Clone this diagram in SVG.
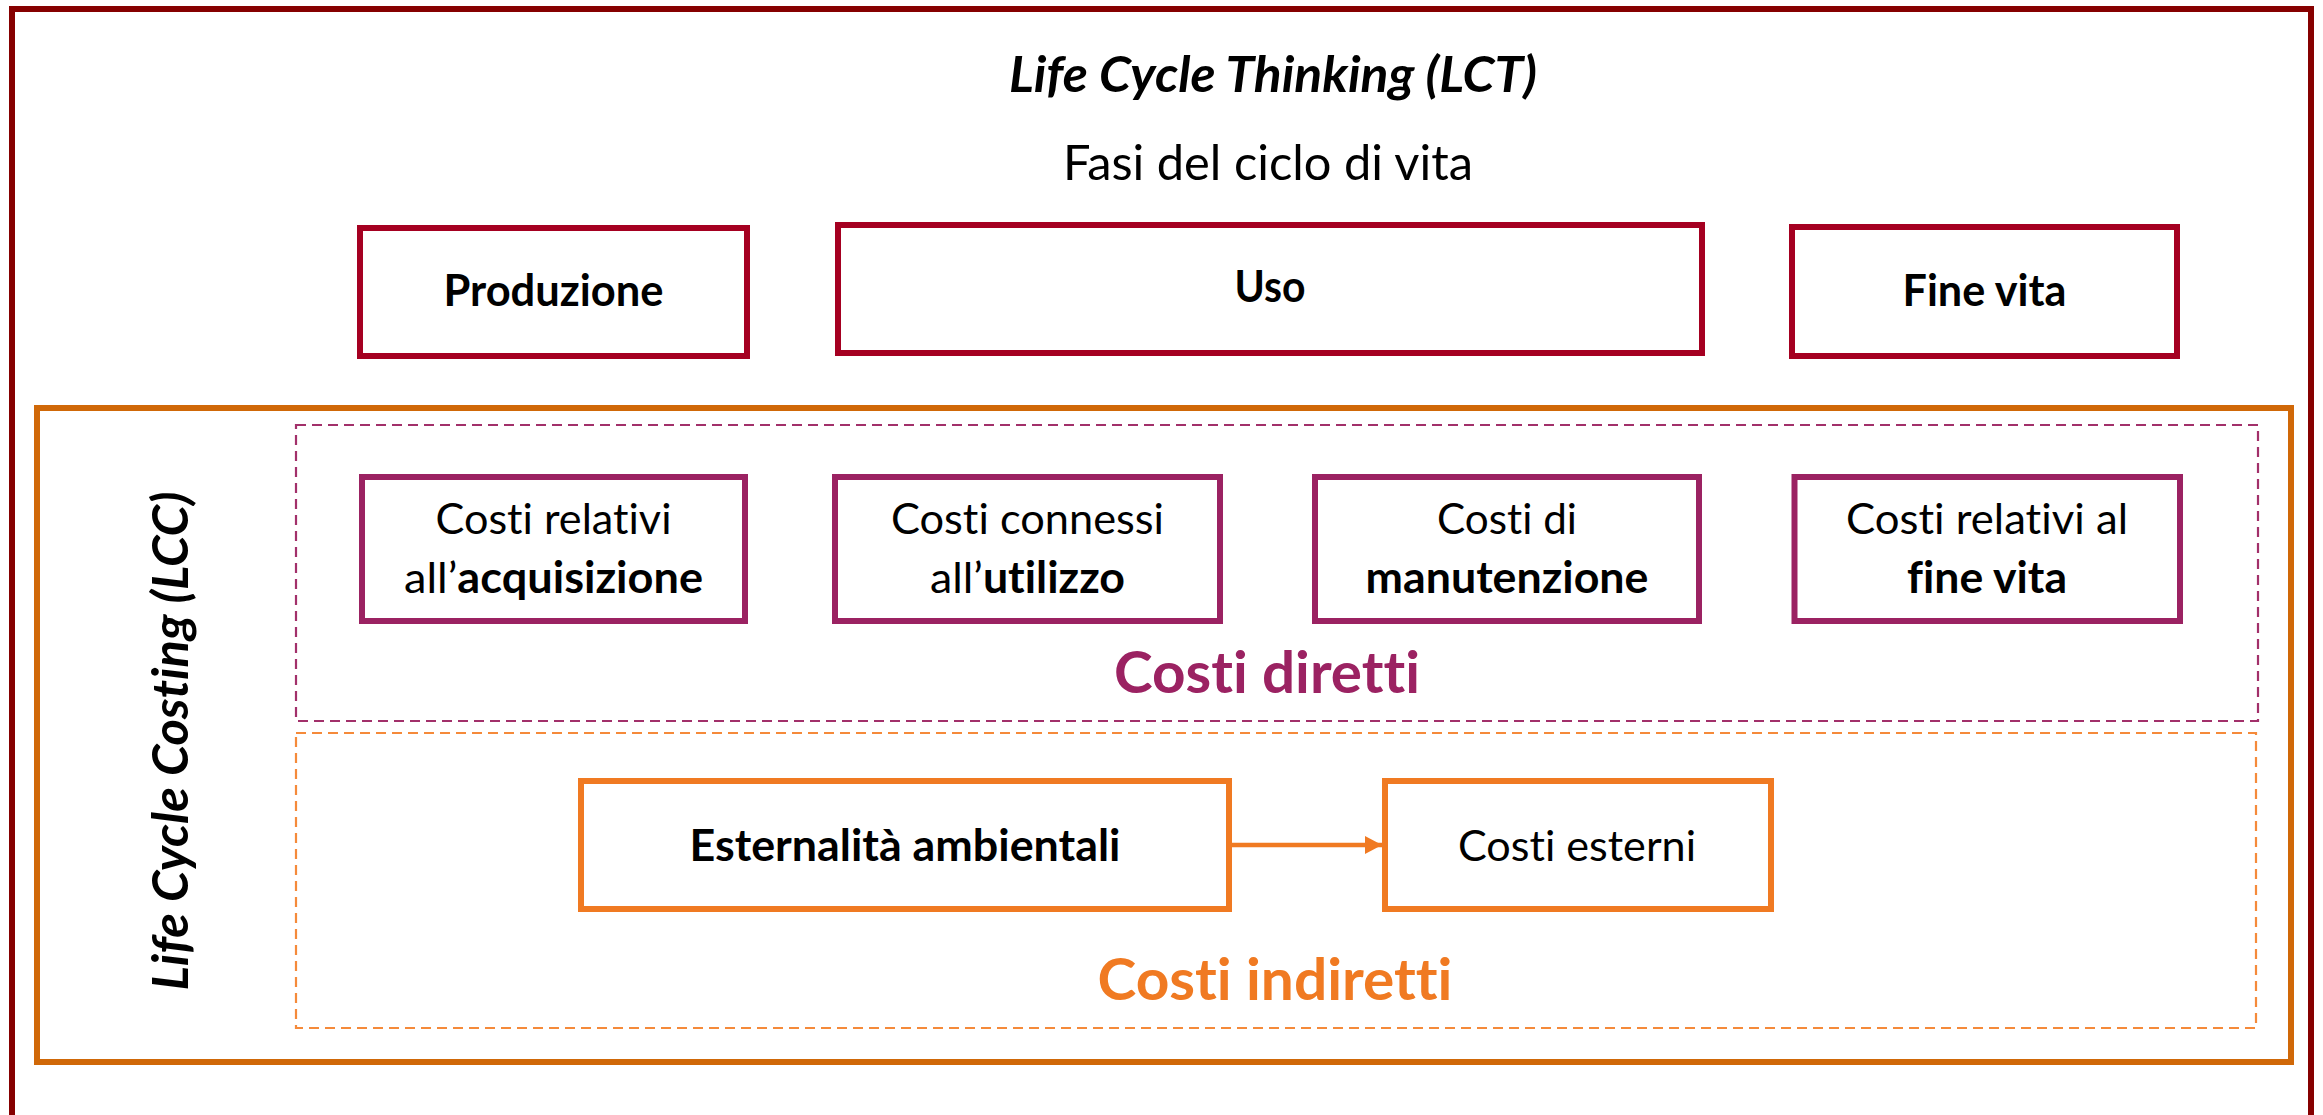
<svg xmlns="http://www.w3.org/2000/svg" width="2323" height="1115" viewBox="0 0 2323 1115">
<defs>
<style>
text{font-family:Lato,"Open Sans","Liberation Sans",sans-serif;fill:#000;font-variant-ligatures:none;font-feature-settings:"liga" 0,"clig" 0,"dlig" 0}
.b{font-weight:700}
.bi{font-weight:700;font-style:italic}
.r{font-weight:400}
.mid{text-anchor:middle}
.phase{fill:#fff;stroke:#A50021;stroke-width:6}
.dir{fill:#fff;stroke:#9B2262;stroke-width:6}
.ind{fill:#fff;stroke:#F07A22;stroke-width:6}
.t42{font-size:43px}
.t48{font-size:49px}
.t56{font-size:57px}
</style>
<marker id="ah" markerWidth="18" markerHeight="20" refX="17" refY="9" orient="auto" markerUnits="userSpaceOnUse">
<path d="M0,0 L17,9 L0,18 Z" fill="#F07A22"/>
</marker>
</defs>
<rect x="0" y="0" width="2323" height="1115" fill="#fff"/>
<g id="frame-lct">
<rect x="12" y="9" width="2299" height="1140" fill="none" stroke="#860000" stroke-width="6"/>
<text class="bi mid t48" x="1273" y="92" textLength="528" lengthAdjust="spacingAndGlyphs">Life Cycle Thinking (LCT)</text>
<text class="r mid t48" x="1268" y="180" textLength="410" lengthAdjust="spacingAndGlyphs">Fasi del ciclo di vita</text>
</g>
<g id="produzione">
<rect class="phase" x="360" y="228" width="387" height="128"/>
<text class="b mid t42" x="553.5" y="306" textLength="220" lengthAdjust="spacingAndGlyphs">Produzione</text>
</g>
<g id="uso">
<rect class="phase" x="838" y="225" width="864" height="128"/>
<text class="b mid t42" x="1270" y="302" textLength="71" lengthAdjust="spacingAndGlyphs">Uso</text>
</g>
<g id="fine-vita">
<rect class="phase" x="1792" y="227" width="385" height="129"/>
<text class="b mid t42" x="1984.5" y="306" textLength="164" lengthAdjust="spacingAndGlyphs">Fine vita</text>
</g>
<g id="frame-lcc">
<rect x="37" y="408" width="2254" height="654" fill="none" stroke="#D06808" stroke-width="6"/>
<text class="bi mid" font-size="50" transform="translate(188,741) rotate(-90)" textLength="499" lengthAdjust="spacingAndGlyphs">Life Cycle Costing (LCC)</text>
</g>
<g id="costi-diretti">
<rect x="296" y="425" width="1962" height="296" fill="none" stroke="#A2306A" stroke-width="2.2" stroke-dasharray="10 6"/>
<text class="b mid t56" x="1267" y="693" style="fill:#9B2262" textLength="306" lengthAdjust="spacingAndGlyphs">Costi diretti</text>
</g>
<g id="costi-indiretti">
<rect x="296" y="733" width="1960" height="295" fill="none" stroke="#F58A3A" stroke-width="2.2" stroke-dasharray="10 6"/>
<text class="b mid t56" x="1275" y="1000" style="fill:#F07A22" textLength="355" lengthAdjust="spacingAndGlyphs">Costi indiretti</text>
</g>
<g id="acquisizione">
<rect class="dir" x="362" y="477" width="383" height="144"/>
<text class="r mid t42" x="553.5" y="534" textLength="236" lengthAdjust="spacingAndGlyphs">Costi relativi</text>
<text class="r mid t42" x="553.5" y="593" textLength="299" lengthAdjust="spacingAndGlyphs">all’<tspan class="b">acquisizione</tspan></text>
</g>
<g id="utilizzo">
<rect class="dir" x="835" y="477" width="385" height="144"/>
<text class="r mid t42" x="1027.5" y="534" textLength="273" lengthAdjust="spacingAndGlyphs">Costi connessi</text>
<text class="r mid t42" x="1027.5" y="593" textLength="195" lengthAdjust="spacingAndGlyphs">all’<tspan class="b">utilizzo</tspan></text>
</g>
<g id="manutenzione">
<rect class="dir" x="1315" y="477" width="384" height="144"/>
<text class="r mid t42" x="1507" y="534" textLength="140" lengthAdjust="spacingAndGlyphs">Costi di</text>
<text class="b mid t42" x="1507" y="593" textLength="283" lengthAdjust="spacingAndGlyphs">manutenzione</text>
</g>
<g id="fine-vita-costi">
<rect class="dir" x="1794.5" y="477" width="385.5" height="144"/>
<text class="r mid t42" x="1987" y="534" textLength="282" lengthAdjust="spacingAndGlyphs">Costi relativi al</text>
<text class="b mid t42" x="1987" y="593" textLength="160" lengthAdjust="spacingAndGlyphs">fine vita</text>
</g>
<g id="esternalita">
<rect class="ind" x="581" y="781" width="648" height="128"/>
<text class="b mid t42" x="905" y="861" textLength="431" lengthAdjust="spacingAndGlyphs">Esternalità ambientali</text>
</g>
<g id="costi-esterni">
<rect class="ind" x="1385" y="781" width="386" height="128"/>
<text class="r mid t42" x="1577" y="861" textLength="238" lengthAdjust="spacingAndGlyphs">Costi esterni</text>
</g>
<g id="connectors">
<line x1="1232" y1="845" x2="1382" y2="845" stroke="#F07A22" stroke-width="4.5" marker-end="url(#ah)"/>
</g>
</svg>
